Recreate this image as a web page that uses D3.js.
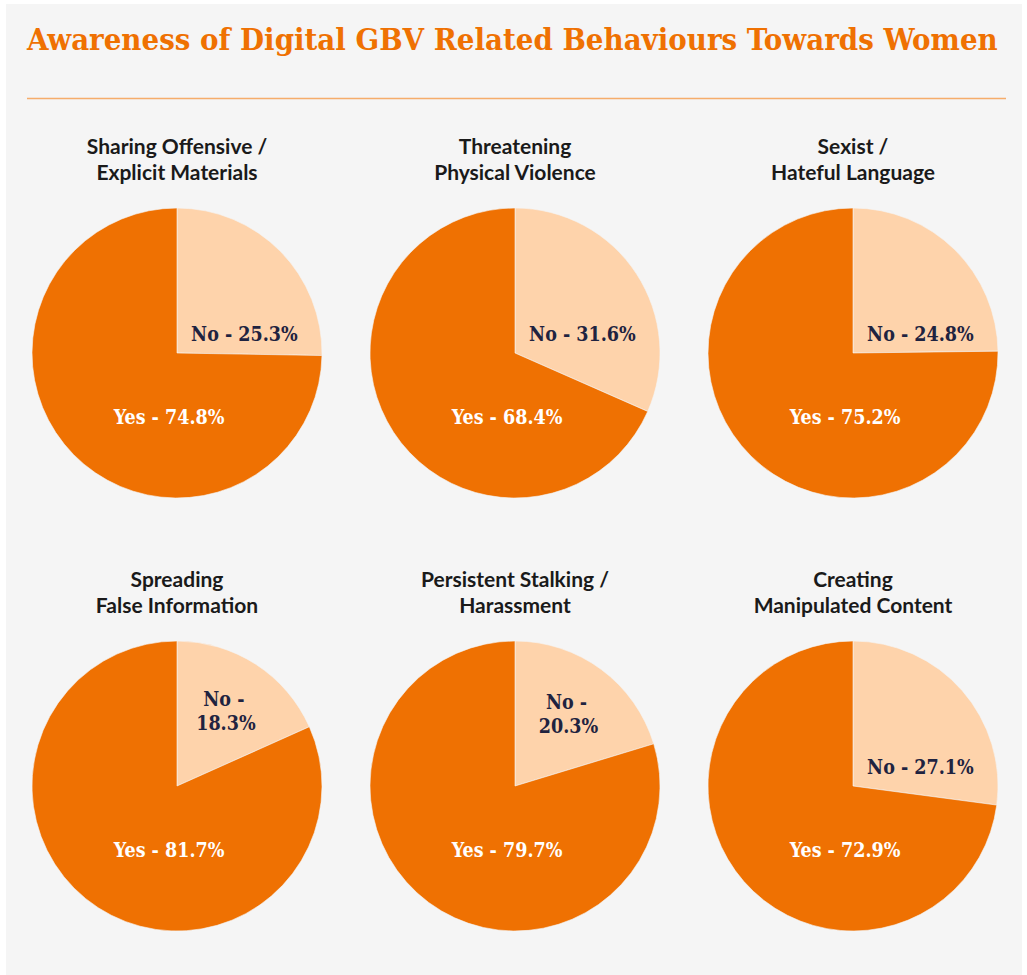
<!DOCTYPE html>
<html>
<head>
<meta charset="utf-8">
<script src="https://cdn.jsdelivr.net/npm/d3@7"></script>
<style>
  html, body { margin: 0; padding: 0; background: #ffffff; }
  svg { display: block; }
</style>
</head>
<body>
<svg id="chart"></svg>
<script>
// data
let chartTitle = "Awareness of Digital GBV Related Behaviours Towards Women";
let panelTitles = [
    ["Sharing Offensive /", "Explicit Materials"],
    ["Threatening", "Physical Violence"],
    ["Sexist /", "Hateful Language"],
    ["Spreading", "False Information"],
    ["Persistent Stalking /", "Harassment"],
    ["Creating", "Manipulated Content"]
];
let answers = ["No", "Yes"];
let noValues = [25.3, 31.6, 24.8, 18.3, 20.3, 27.1];
let yesValues = [74.8, 68.4, 75.2, 81.7, 79.7, 72.9];

let width = 1027, height = 975, radius = 145;
let orange = "#ef7102", peach = "#fed3ab", ink = "#1f2340";

let svg = d3.select("#chart")
    .attr("width", width)
    .attr("height", height);

// page background
svg.append("rect")
    .attr("x", 6).attr("y", 4)
    .attr("width", 1016).attr("height", height - 4)
    .attr("fill", "#f5f5f5");

// title: squeeze horizontally to the width of the rule below it
let title = svg.append("text")
    .attr("x", 0).attr("y", 0)
    .style("font-family", "'DejaVu Serif', serif")
    .style("font-stretch", "condensed")
    .style("font-weight", "bold")
    .style("font-size", "30px")
    .attr("fill", orange)
    .text(chartTitle);
let titleW = title.node().getComputedTextLength();
title.attr("transform", "translate(27,50) scale(" + (971 / titleW) + ",1)");

svg.append("line")
    .attr("x1", 27).attr("x2", 1006)
    .attr("y1", 98.5).attr("y2", 98.5)
    .attr("stroke", "#f6ad6b")
    .attr("stroke-width", 1.5);

let col = d3.scalePoint().domain([0, 1, 2]).range([177, 853]);
let row = d3.scalePoint().domain([0, 1]).range([353, 786]);
let color = d3.scaleOrdinal().domain(answers).range([peach, orange]);

let pie = d3.pie().sort(null).value(d => d.value);
let path = d3.arc().outerRadius(radius).innerRadius(0);

let panels = svg.selectAll(".panel")
    .data(panelTitles.map((t, i) => ({
        title: t,
        slices: [
            {answer: "No", value: noValues[i]},
            {answer: "Yes", value: yesValues[i]}
        ]
    })))
    .enter()
    .append("g")
    .attr("class", "panel")
    .attr("transform", (d, i) => "translate(" + col(i % 3) + "," + row(Math.floor(i / 3)) + ")");

panels.append("text")
    .attr("text-anchor", "middle")
    .style("font-family", "Lato, sans-serif")
    .style("font-weight", "bold")
    .style("font-size", "21px")
    .attr("fill", "#1a1a1a")
    .selectAll("tspan")
    .data(d => d.title)
    .enter()
    .append("tspan")
    .attr("x", 0)
    .attr("y", (d, i) => -radius - 54 + i * 26)
    .text(d => d);

let arcs = panels.selectAll(".slice")
    .data(d => pie(d.slices))
    .enter()
    .append("g")
    .attr("class", "slice");

arcs.append("path")
    .attr("d", path)
    .attr("fill", d => color(d.data.answer))
    .attr("stroke", "#f5f5f5")
    .attr("stroke-width", 0.6);

// label placement: small slices get a wrapped label on the slice centroid
let labelArc = d3.arc().outerRadius(radius * 1.24).innerRadius(0);

arcs.append("text")
    .attr("text-anchor", "middle")
    .style("font-family", "'DejaVu Serif', serif")
    .style("font-stretch", "condensed")
    .style("font-size", "19.5px")
    .style("font-weight", "bold")
    .attr("fill", d => d.data.answer === "No" ? ink : "#ffffff")
    .each(function(d) {
        let t = d3.select(this);
        let label = d.data.answer + " - " + d.data.value.toFixed(1) + "%";
        if (d.data.answer === "Yes") {
            t.append("tspan").attr("x", -radius * 0.055).attr("y", radius * 0.44 + 7).text(label);
        } else if (d.data.value < 22) {
            let c = labelArc.centroid(d);
            t.append("tspan").attr("x", c[0] - 2).attr("y", c[1] - 5).text(d.data.answer + " -");
            t.append("tspan").attr("x", c[0]).attr("y", c[1] + 19).text(d.data.value.toFixed(1) + "%");
        } else {
            t.append("tspan").attr("x", radius * 0.465).attr("y", -radius * 0.13 + 7).text(label);
        }
    });
</script>
</body>
</html>
